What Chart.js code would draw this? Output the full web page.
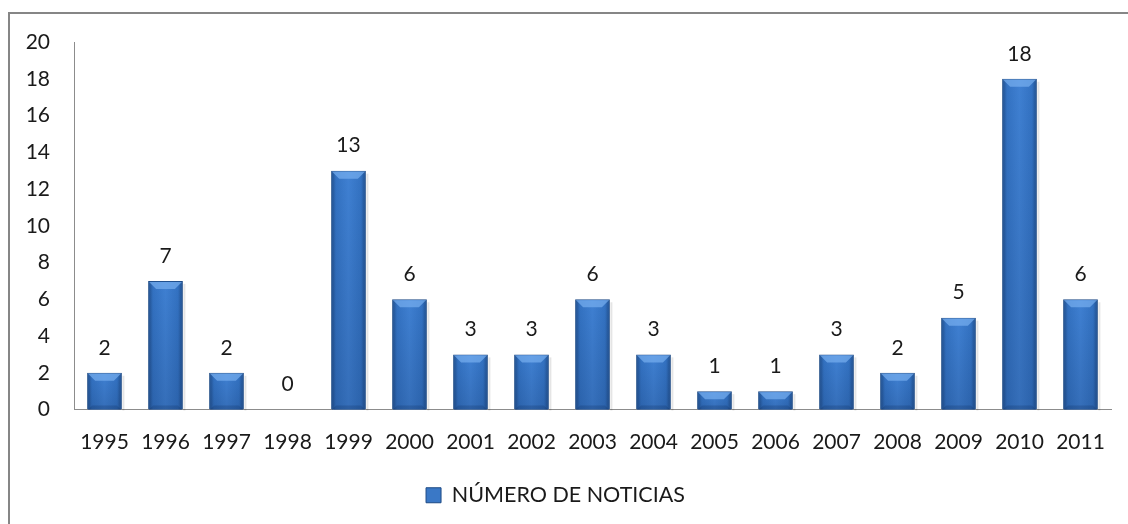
<!DOCTYPE html>
<html>
<head>
<meta charset="utf-8">
<script src="https://cdn.jsdelivr.net/npm/chart.js@4.4.0/dist/chart.umd.min.js"></script>
<style>
  html, body { margin: 0; padding: 0; background: #ffffff; overflow: hidden; }
  #wrap { position: relative; width: 1128px; height: 524px; }
  #frame { position: absolute; left: 8px; top: 12px; width: 1140px; height: 540px;
           border: 2px solid #868686; box-sizing: border-box; }
  canvas { position: absolute; left: 0; top: 0; }
</style>
</head>
<body>
<div id="wrap">
  <div id="frame"></div>
  <canvas id="c" width="1128" height="524"></canvas>
</div>
<script>
const categories = ["1995","1996","1997","1998","1999","2000","2001","2002","2003","2004","2005","2006","2007","2008","2009","2010","2011"];
const noticias = [2, 7, 2, 0, 13, 6, 3, 3, 6, 3, 1, 1, 3, 2, 5, 18, 6];
const seriesName = "NÚMERO DE NOTICIAS";
const yTicks = [0, 2, 4, 6, 8, 10, 12, 14, 16, 18, 20];

const FONT = "Lato, 'Open Sans', sans-serif";
const TXT = "#1a1a1a";

const shadePlugin = {
  id: "shade",
  afterDatasetsDraw(chart) {
    const ctx = chart.ctx;
    const meta = chart.getDatasetMeta(0);
    meta.data.forEach((bar, i) => {
      if (!noticias[i]) return;
      const w = bar.width, x0 = bar.x - w / 2, x1 = bar.x + w / 2, top = bar.y, base = bar.base;
      const ih = base - top - 1;
      ctx.save();
      ctx.fillStyle = "rgba(0,0,0,0.10)";
      ctx.fillRect(x1 + 0.5, top + 3, 2, base - top - 2);
      const hg = ctx.createLinearGradient(x0, 0, x1, 0);
      hg.addColorStop(0, "#1f4c88");
      hg.addColorStop(0.14, "#3372c2");
      hg.addColorStop(0.5, "#3f80d2");
      hg.addColorStop(0.86, "#3372c2");
      hg.addColorStop(1, "#1f4c88");
      ctx.fillStyle = hg;
      ctx.fillRect(x0 + 1, top + 1, w - 2, ih);
      const vg = ctx.createLinearGradient(0, top, 0, base);
      vg.addColorStop(0, "rgba(10,30,70,0)");
      vg.addColorStop(1, "rgba(10,30,70,0.18)");
      ctx.fillStyle = vg;
      ctx.fillRect(x0 + 1, top + 1, w - 2, ih);
      const h = Math.min(8, (base - top) / 2);
      ctx.beginPath();
      ctx.moveTo(x0 + 1, top + 1);
      ctx.lineTo(x1 - 1, top + 1);
      ctx.lineTo(x1 - 8, top + h);
      ctx.lineTo(x0 + 8, top + h);
      ctx.closePath();
      ctx.fillStyle = "rgba(120,175,240,0.7)";
      ctx.fill();
      const bh = Math.min(4, h);
      ctx.beginPath();
      ctx.moveTo(x0 + 1, base);
      ctx.lineTo(x1 - 1, base);
      ctx.lineTo(x1 - 5, base - bh);
      ctx.lineTo(x0 + 5, base - bh);
      ctx.closePath();
      ctx.fillStyle = "rgba(15,40,85,0.22)";
      ctx.fill();
      ctx.restore();
    });
  }
};

const labelPlugin = {
  id: "valueLabels",
  afterDatasetsDraw(chart) {
    const ctx = chart.ctx;
    const meta = chart.getDatasetMeta(0);
    ctx.save();
    ctx.font = "21px " + FONT;
    ctx.fillStyle = TXT;
    ctx.textAlign = "center";
    ctx.textBaseline = "middle";
    meta.data.forEach((bar, i) => {
      ctx.fillText(String(noticias[i]), bar.x, bar.y - 25);
    });
    ctx.restore();
  }
};

new Chart(document.getElementById("c"), {
  type: "bar",
  data: {
    labels: categories,
    datasets: [{
      label: seriesName,
      data: noticias,
      backgroundColor: "#3a78c6",
      borderColor: "#1d4a85",
      borderWidth: 1,
      categoryPercentage: 1,
      barPercentage: 0.57
    }]
  },
  options: {
    responsive: false,
    animation: false,
    devicePixelRatio: 1,
    layout: { padding: { left: 0, right: 17, top: 42, bottom: 8 } },
    scales: {
      x: {
        grid: { display: false, drawTicks: false },
        border: { display: true, color: "#8c8c8c", width: 1 },
        ticks: { font: { family: FONT, size: 21 }, color: TXT, padding: 20, maxRotation: 0, autoSkip: false },
        afterFit(s) { s.height = 65; }
      },
      y: {
        min: 0, max: 20,
        afterBuildTicks(s) { s.ticks = yTicks.map(v => ({ value: v })); },
        grid: { display: false, drawTicks: false },
        border: { display: true, color: "#8c8c8c", width: 1 },
        ticks: { font: { family: FONT, size: 21 }, color: TXT, padding: 24 },
        afterFit(s) { s.width = 74; }
      }
    },
    plugins: {
      legend: {
        position: "bottom",
        labels: {
          font: { family: FONT, size: 21.5 },
          color: TXT,
          boxWidth: 15,
          boxHeight: 15,
          padding: 10,
          generateLabels(chart) {
            return [{
              text: seriesName,
              fillStyle: "#3a78c6",
              strokeStyle: "#1d4a85",
              lineWidth: 1,
              hidden: false,
              datasetIndex: 0,
              fontColor: TXT
            }];
          }
        }
      },
      tooltip: { enabled: false }
    }
  },
  plugins: [shadePlugin, labelPlugin]
});
</script>
</body>
</html>
